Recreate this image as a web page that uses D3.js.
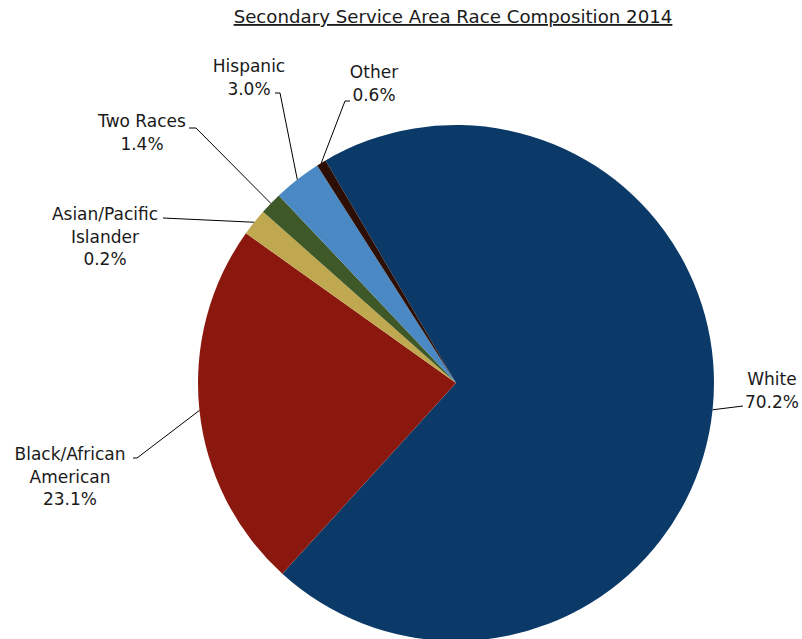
<!DOCTYPE html>
<html>
<head>
<meta charset="utf-8">
<script src="https://cdn.jsdelivr.net/npm/d3@7"></script>
<style>
  body { margin: 0; background: #fff; }
  svg { display: block; }
  text { font-family: "DejaVu Sans", sans-serif; fill: #1a1a1a; }
</style>
</head>
<body>
<svg id="chart" width="802" height="639"></svg>
<script>
const WIDTH = 802;
const HEIGHT = 639;

// data (slice sizes as drawn; label text as printed on the chart)
const categories = ["White", "Black/African American", "Asian/Pacific Islander", "Two Races", "Hispanic", "Other"];
const values = [70.2, 23.1, 1.7, 1.4, 3.0, 0.6];
const pctLabels = ["70.2%", "23.1%", "0.2%", "1.4%", "3.0%", "0.6%"];
const colors = ["#0b3a69", "#8b180e", "#bfa84f", "#3f5827", "#4a89c3", "#2c0e05"];

// label layout: text lines, anchor of first line, leader elbow + end
const labelLines = [
  ["White"], ["Black/African", "American"], ["Asian/Pacific", "Islander"],
  ["Two Races"], ["Hispanic"], ["Other"]
];
const labelLayout = [
  { x: 772, y: 385, elbow: [743, 406], end: [743, 406] },
  { x: 70, y: 460, elbow: [137, 458], end: [133, 458] },
  { x: 105, y: 220, elbow: [163, 218], end: [163, 218] },
  { x: 142, y: 127, elbow: [196, 128], end: [189, 128] },
  { x: 249, y: 72, elbow: [280, 93], end: [275, 93] },
  { x: 374, y: 78, elbow: [345, 101], end: [350, 101] }
];

const cx = 456, cy = 383, radius = 258;
const startDeg = -30.4;

const svg = d3.select("#chart");

// title
svg.append("text")
  .attr("x", 453)
  .attr("y", 23)
  .attr("text-anchor", "middle")
  .style("font-size", "18.2px")
  .style("text-decoration", "underline")
  .text("Secondary Service Area Race Composition 2014");

const pie = d3.pie()
  .sort(null)
  .value(d => d)
  .startAngle(startDeg * Math.PI / 180)
  .endAngle(startDeg * Math.PI / 180 + 2 * Math.PI);

const arc = d3.arc().innerRadius(0).outerRadius(radius);
const arcs = pie(values);

const g = svg.append("g").attr("transform", `translate(${cx},${cy})`);

g.selectAll("path")
  .data(arcs)
  .enter()
  .append("path")
  .attr("d", arc)
  .attr("fill", (d, i) => colors[i]);

// leader lines
arcs.forEach((d, i) => {
  const mid = (d.startAngle + d.endAngle) / 2;
  const sx = cx + radius * Math.sin(mid);
  const sy = cy - radius * Math.cos(mid);
  const L = labelLayout[i];
  svg.append("polyline")
    .attr("points", [[sx, sy], L.elbow, L.end].map(p => p.join(",")).join(" "))
    .attr("fill", "none")
    .attr("stroke", "#000")
    .attr("stroke-width", 1);
});

// labels
categories.forEach((c, i) => {
  const L = labelLayout[i];
  const lines = labelLines[i].concat([pctLabels[i]]);
  const t = svg.append("text")
    .attr("text-anchor", "middle")
    .style("font-size", "17px");
  lines.forEach((ln, k) => {
    t.append("tspan")
      .attr("x", L.x)
      .attr("y", L.y + k * 22.5)
      .text(ln);
  });
});
</script>
</body>
</html>
